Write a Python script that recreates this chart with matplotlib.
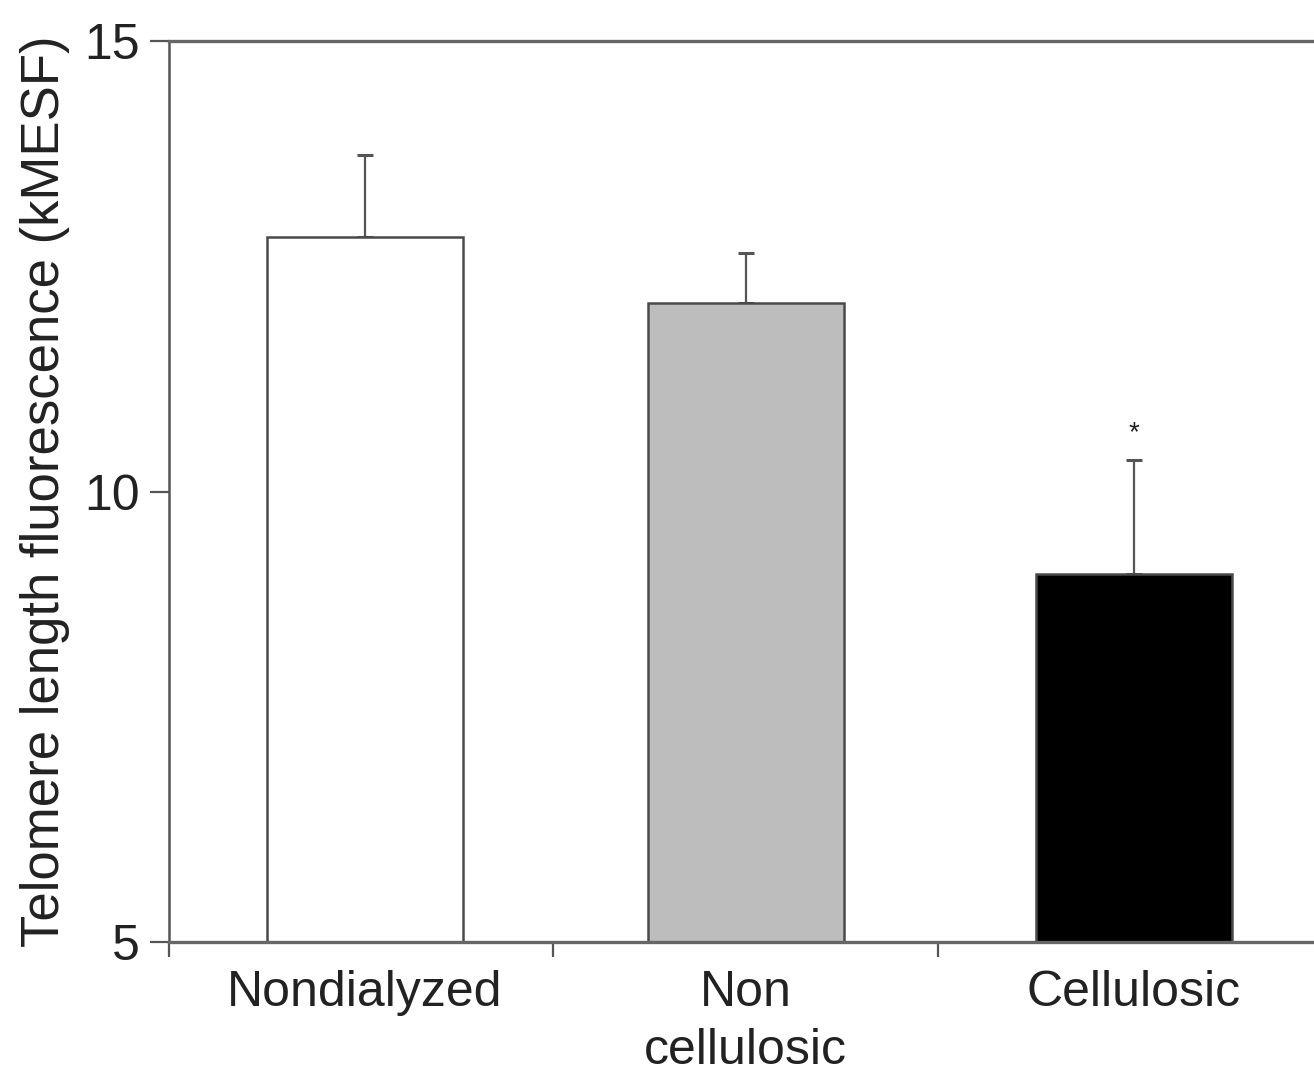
import matplotlib
matplotlib.use("Agg")
import matplotlib.pyplot as plt

categories = ["Nondialyzed", "Non\ncellulosic", "Cellulosic"]
means = [12.83, 12.09, 9.08]
errors = [0.90, 0.56, 1.27]
bar_colors = ["#ffffff", "#bdbdbd", "#000000"]
significance = ["", "", "*"]
yticks = [5, 10, 15]

plt.rcParams['font.family'] = ['Liberation Sans', 'DejaVu Sans']

fig = plt.figure(figsize=(13.14, 10.77), dpi=100)
ax = fig.add_axes([0.1286, 0.1253, 1 - 0.1286, 0.8366])

x = [0.01, 1.0, 2.01]
ax.bar(x, means, width=0.51, color=bar_colors, edgecolor="#4a4a4a", linewidth=1.8, zorder=2)
ax.errorbar(x, means, yerr=[[0] * len(errors), errors], fmt="none",
            ecolor="#555555", elinewidth=1.6, capsize=6, capthick=2.2, zorder=1)
for xi, m, e, s in zip(x, means, errors, significance):
    if s:
        ax.text(xi, m + e + 0.15, s, ha="center", va="bottom", fontsize=20, color="#222222")

ax.set_ylim(5, 15)
ax.set_xlim(-0.5, 2.478)
ax.set_yticks(yticks)
ax.set_yticklabels([str(t) for t in yticks], fontsize=36, color="#222222")
ax.tick_params(axis="y", length=14, width=1.6, pad=7, color="#555555", direction="out")

ax.set_xticks(x)
ax.set_xticklabels(categories, fontsize=36, color="#222222", linespacing=1.35)
ax.tick_params(axis="x", which="major", length=0, pad=20)
ax.set_xticks([-0.5, 0.5, 1.5], minor=True)
ax.tick_params(axis="x", which="minor", length=11, width=1.6, color="#555555", direction="out")

ax.set_ylabel("Telomere length fluorescence (kMESF)", fontsize=38, color="#222222", labelpad=10)

for side in ["top", "bottom"]:
    ax.spines[side].set_linewidth(2.4)
    ax.spines[side].set_color("#666666")
ax.spines["left"].set_linewidth(1.8)
ax.spines["left"].set_color("#555555")
ax.spines["right"].set_visible(False)

fig.savefig("out.png", dpi=100)
